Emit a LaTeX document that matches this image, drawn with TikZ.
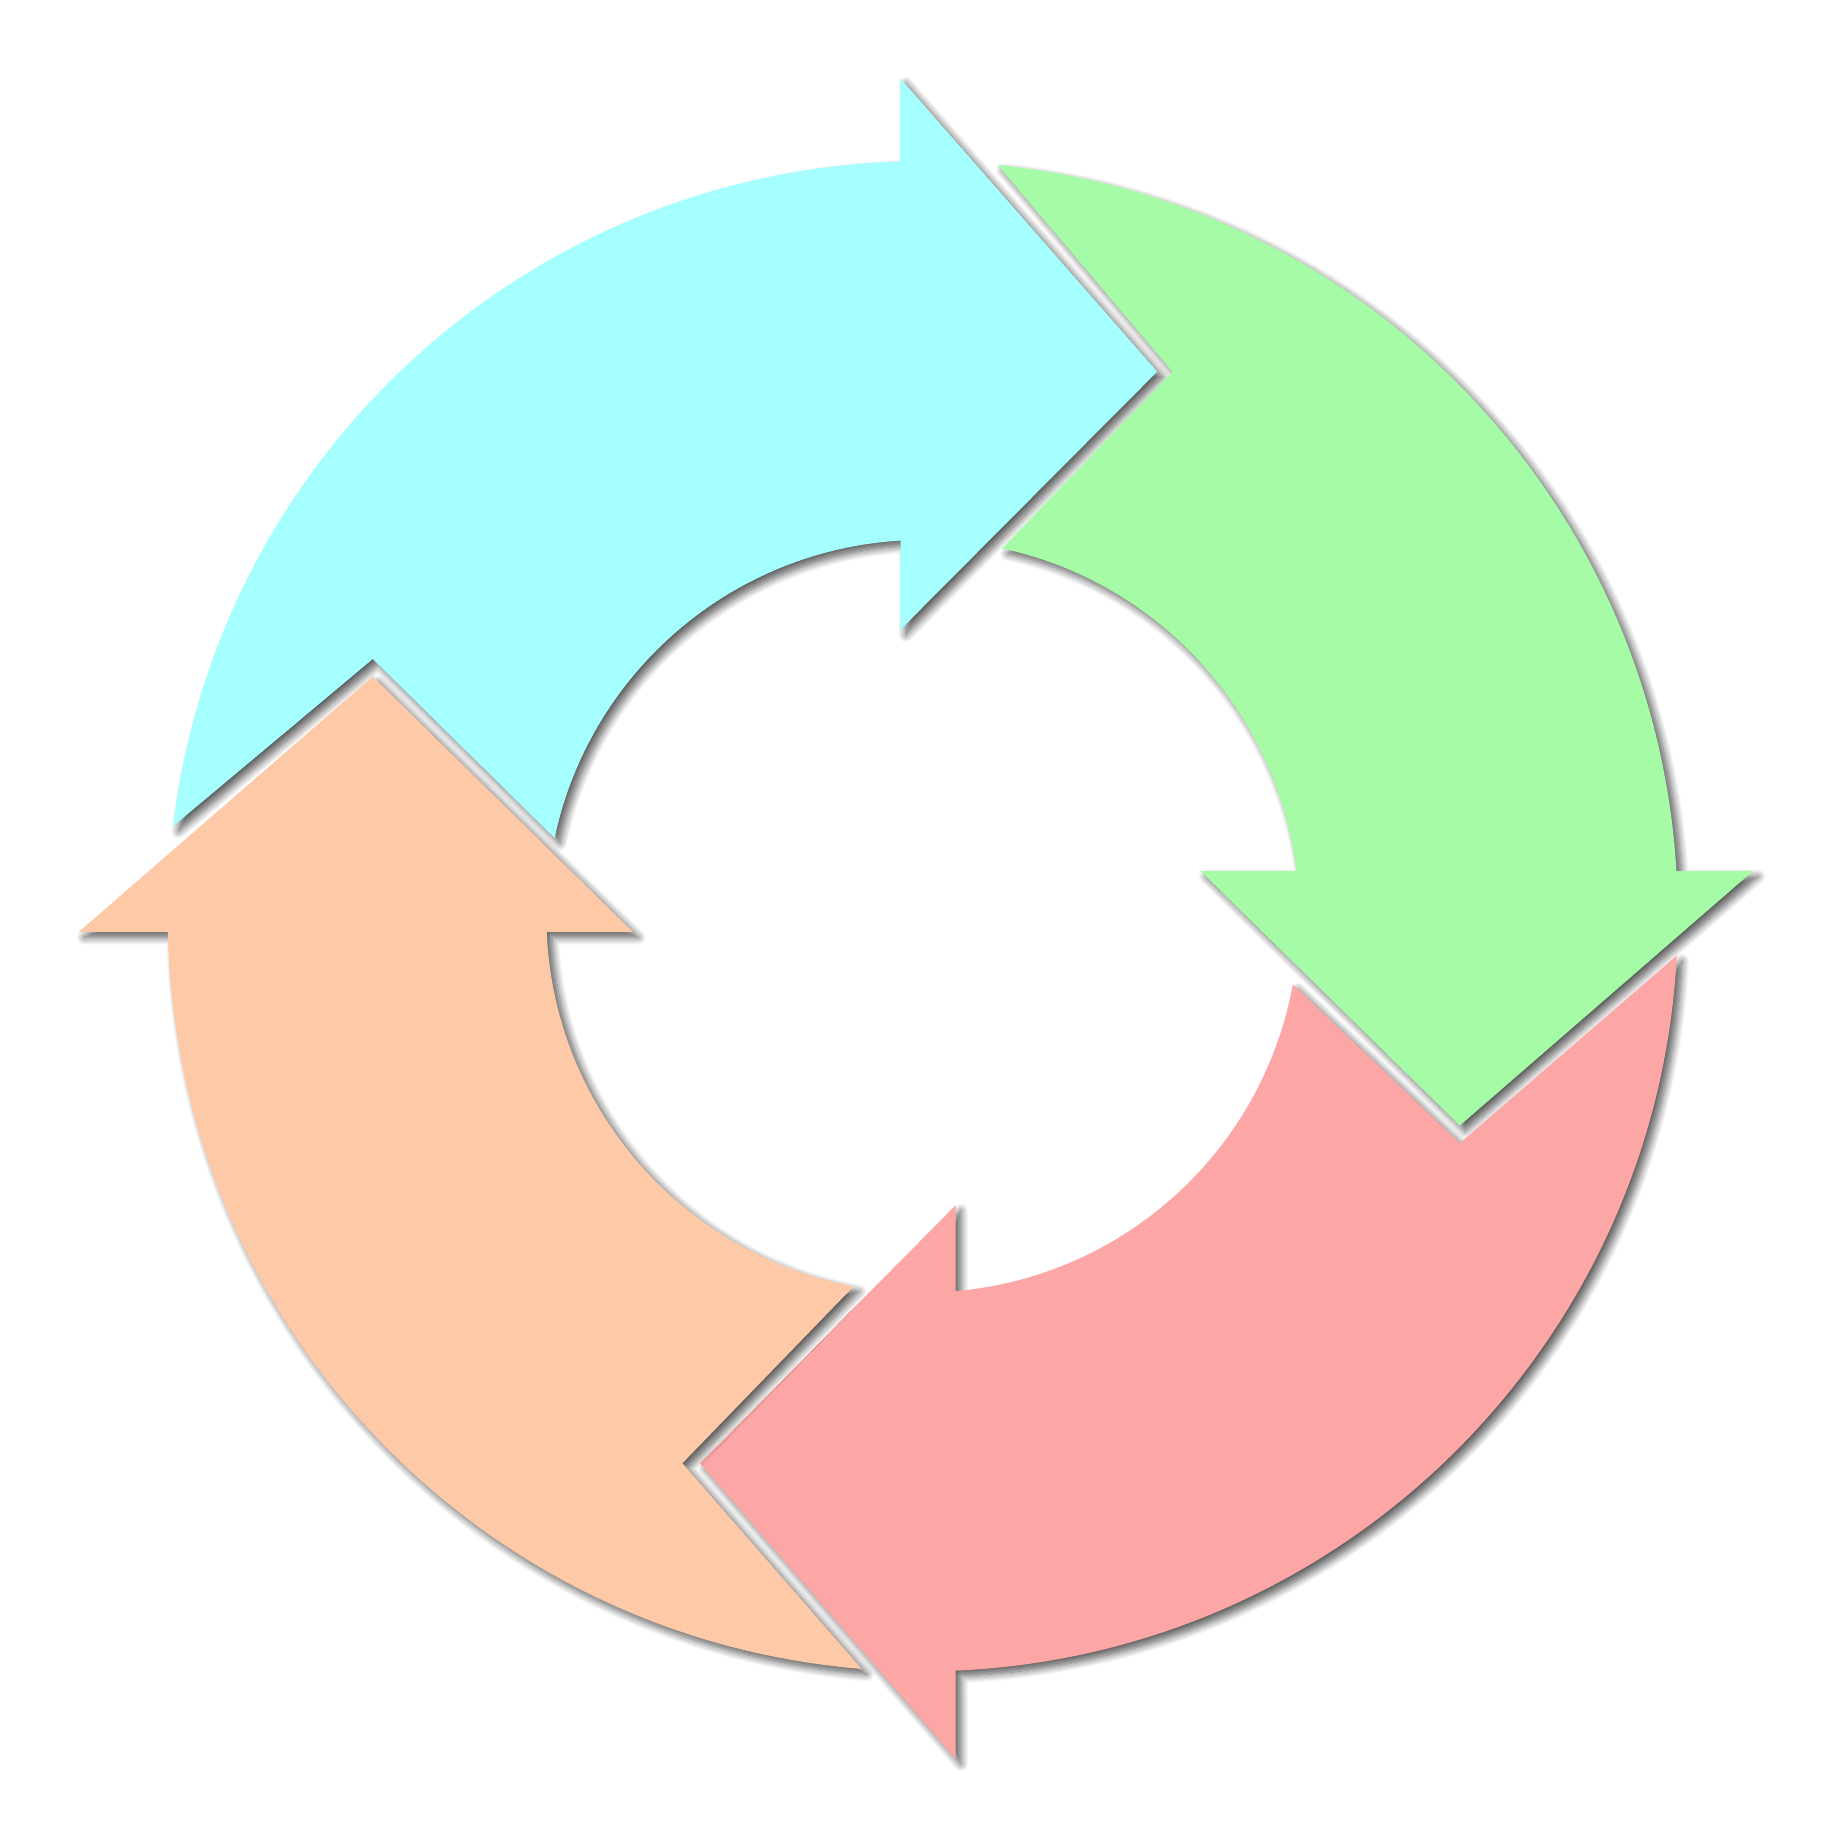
\documentclass[tikz,border=0pt]{standalone}
\usepackage{tikz}
\usetikzlibrary{shadows.blur}
\definecolor{cyclecyan}{HTML}{A6FFFF}
\definecolor{cyclegreen}{HTML}{A6FCA6}
\definecolor{cyclepink}{HTML}{FDA6A6}
\definecolor{cycleorange}{HTML}{FDC9A7}

\begin{document}
\begin{tikzpicture}[x=0.01cm,y=0.01cm,
    arrowpiece/.style={blur shadow={shadow xshift=1.3pt,shadow yshift=-1.3pt,
        shadow blur radius=1.8pt,shadow blur steps=10,shadow opacity=65}}]
  \useasboundingbox (-787,-787.8) rectangle (774.6,781.5);
  % top arrow
  \fill[arrowpiece,fill=cyclecyan]
    (173.15:644) arc[start angle=173.15,end angle=91.69,radius=644]
    -- (-19,714.5) -- (200,464.5) -- (-19,244.5)
    -- (93.39:321) arc[start angle=93.39,end angle=168,radius=321]
    -- (-469,219.5) -- cycle;
  % right arrow
  \fill[arrowpiece,fill=cyclegreen]
    (84.3:644) arc[start angle=84.3,end angle=3.43,radius=644]
    -- (708,38.5) -- (458,-178.5) -- (237,38.5)
    -- (6.89:321) arc[start angle=6.89,end angle=77.84,radius=321]
    -- (213,464.5) -- cycle;
  % bottom arrow
  \fill[arrowpiece,fill=cyclepink]
    (-2.98:644) arc[start angle=-2.98,end angle=-87.51,radius=644]
    -- (28,-718.5) -- (-190,-466.5) -- (28,-246.5)
    -- (-85:321) arc[start angle=-85,end angle=-10.42,radius=321]
    -- (458,-193.5) -- cycle;
  % left arrow
  \fill[arrowpiece,fill=cycleorange]
    (265.36:644) arc[start angle=265.36,end angle=181.2,radius=644]
    -- (-720,-13.5) -- (-469,204.5) -- (-247,-13.5)
    -- (182.41:321) arc[start angle=182.41,end angle=259.44,radius=321]
    -- (-205,-466.5) -- cycle;
\end{tikzpicture}
\end{document}
